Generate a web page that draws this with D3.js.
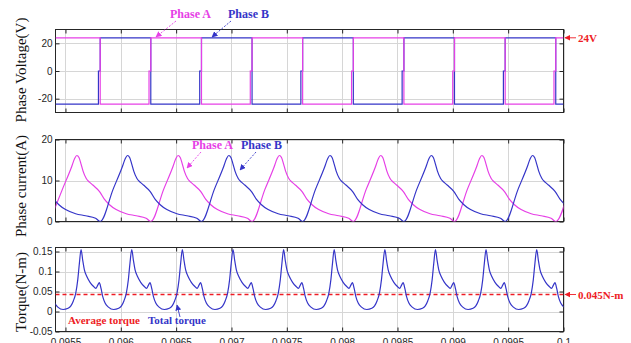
<!DOCTYPE html>
<html>
<head>
<meta charset="utf-8">
<script src="https://cdn.jsdelivr.net/npm/d3@7"></script>
<style>
  html, body { margin: 0; padding: 0; background: #fff; }
  svg { display: block; }
</style>
</head>
<body>
<svg id="chart" width="631" height="343"></svg>
<script>
// ---- axis ticks ----
const timeTicks = [0.0955, 0.096, 0.0965, 0.097, 0.0975, 0.098, 0.0985, 0.099, 0.0995, 0.1];
const timeTickLabels = ["0.0955", "0.096", "0.0965", "0.097", "0.0975", "0.098", "0.0985", "0.099", "0.0995", "0.1"];
const voltageTicks = [-20, 0, 20];
const voltageTickLabels = ["-20", "0", "20"];
const currentTicks = [0, 10, 20];
const currentTickLabels = ["0", "10", "20"];
const torqueTicks = [-0.05, 0, 0.05, 0.1, 0.15];
const torqueTickLabels = ["-0.05", "0", "0.05", "0.1", "0.15"];

// ---- phase voltages [time s, volts], each level held until the next time ----
const phaseAVoltage = [
  [0.09541, 24], [0.095814, -24], [0.096255, 0], [0.096271, 24], [0.096729, -24],
  [0.09717, 0], [0.097186, 24], [0.097643, -24], [0.098085, 0], [0.098101, 24],
  [0.098558, -24], [0.098999, 0], [0.099015, 24], [0.099473, -24], [0.099914, 0],
  [0.09993, 24], [0.1, 24]
];
const phaseBVoltage = [
  [0.09541, -24], [0.095798, 0], [0.095814, 24], [0.096271, -24], [0.096713, 0],
  [0.096729, 24], [0.097186, -24], [0.097627, 0], [0.097643, 24], [0.098101, -24],
  [0.098542, 0], [0.098558, 24], [0.099015, -24], [0.099457, 0], [0.099473, 24],
  [0.09993, -24], [0.1, -24]
];

// ---- phase currents [time s, amps] ----
const phaseACurrent = [
  [0.095356, 0], [0.095473, 7.9], [0.095555, 13.3], [0.095582, 15.3], [0.095603, 16.1], [0.095622, 15.6],
  [0.095641, 14.0], [0.095659, 12.3], [0.095688, 10.5], [0.095717, 9.6], [0.095747, 8.9], [0.095808, 7.3],
  [0.095853, 5.4], [0.095898, 4.1], [0.095958, 2.9], [0.096049, 1.9], [0.096139, 1.4], [0.096229, 0.8],
  [0.096271, 0], [0.096388, 7.9], [0.09647, 13.3], [0.096497, 15.3], [0.096518, 16.1], [0.096537, 15.6],
  [0.096556, 14.0], [0.096574, 12.3], [0.096603, 10.5], [0.096632, 9.6], [0.096662, 8.9], [0.096723, 7.3],
  [0.096768, 5.4], [0.096813, 4.1], [0.096873, 2.9], [0.096964, 1.9], [0.097054, 1.4], [0.097144, 0.8],
  [0.097186, 0], [0.097303, 7.9], [0.097385, 13.3], [0.097412, 15.3], [0.097433, 16.1], [0.097452, 15.6],
  [0.097471, 14.0], [0.097489, 12.3], [0.097518, 10.5], [0.097547, 9.6], [0.097577, 8.9], [0.097638, 7.3],
  [0.097683, 5.4], [0.097728, 4.1], [0.097788, 2.9], [0.097879, 1.9], [0.097969, 1.4], [0.098059, 0.8],
  [0.098101, 0], [0.098218, 7.9], [0.0983, 13.3], [0.098327, 15.3], [0.098348, 16.1], [0.098367, 15.6],
  [0.098386, 14.0], [0.098404, 12.3], [0.098433, 10.5], [0.098462, 9.6], [0.098492, 8.9], [0.098553, 7.3],
  [0.098598, 5.4], [0.098643, 4.1], [0.098703, 2.9], [0.098794, 1.9], [0.098884, 1.4], [0.098974, 0.8],
  [0.099015, 0], [0.099132, 7.9], [0.099214, 13.3], [0.099241, 15.3], [0.099262, 16.1], [0.099281, 15.6],
  [0.0993, 14.0], [0.099318, 12.3], [0.099347, 10.5], [0.099376, 9.6], [0.099406, 8.9], [0.099467, 7.3],
  [0.099512, 5.4], [0.099557, 4.1], [0.099617, 2.9], [0.099708, 1.9], [0.099798, 1.4], [0.099888, 0.8],
  [0.09993, 0], [0.100047, 7.9]
];
const phaseBCurrent = [
  [0.095351, 7.3], [0.095396, 5.4], [0.095441, 4.1], [0.095501, 2.9], [0.095592, 1.9], [0.095682, 1.4], [0.095772, 0.8],
  [0.095814, 0], [0.095931, 7.9], [0.096013, 13.3], [0.09604, 15.3], [0.096061, 16.1], [0.09608, 15.6],
  [0.096099, 14.0], [0.096117, 12.3], [0.096146, 10.5], [0.096175, 9.6], [0.096205, 8.9], [0.096266, 7.3],
  [0.096311, 5.4], [0.096356, 4.1], [0.096416, 2.9], [0.096507, 1.9], [0.096597, 1.4], [0.096687, 0.8],
  [0.096729, 0], [0.096846, 7.9], [0.096928, 13.3], [0.096955, 15.3], [0.096976, 16.1], [0.096995, 15.6],
  [0.097014, 14.0], [0.097032, 12.3], [0.097061, 10.5], [0.09709, 9.6], [0.09712, 8.9], [0.097181, 7.3],
  [0.097226, 5.4], [0.097271, 4.1], [0.097331, 2.9], [0.097422, 1.9], [0.097512, 1.4], [0.097602, 0.8],
  [0.097643, 0], [0.09776, 7.9], [0.097842, 13.3], [0.097869, 15.3], [0.09789, 16.1], [0.097909, 15.6],
  [0.097928, 14.0], [0.097946, 12.3], [0.097975, 10.5], [0.098004, 9.6], [0.098034, 8.9], [0.098095, 7.3],
  [0.09814, 5.4], [0.098185, 4.1], [0.098245, 2.9], [0.098336, 1.9], [0.098426, 1.4], [0.098516, 0.8],
  [0.098558, 0], [0.098675, 7.9], [0.098757, 13.3], [0.098784, 15.3], [0.098805, 16.1], [0.098824, 15.6],
  [0.098843, 14.0], [0.098861, 12.3], [0.09889, 10.5], [0.098919, 9.6], [0.098949, 8.9], [0.09901, 7.3],
  [0.099055, 5.4], [0.0991, 4.1], [0.09916, 2.9], [0.099251, 1.9], [0.099341, 1.4], [0.099431, 0.8],
  [0.099473, 0], [0.09959, 7.9], [0.099672, 13.3], [0.099699, 15.3], [0.09972, 16.1], [0.099739, 15.6],
  [0.099758, 14.0], [0.099776, 12.3], [0.099805, 10.5], [0.099834, 9.6], [0.099864, 8.9], [0.099925, 7.3],
  [0.09997, 5.4], [0.100015, 4.1]
];

// ---- total torque [time s, N-m] ----
const totalTorque = [
  [0.095401, 0.021], [0.095431, 0.011], [0.095479, 0.005], [0.095524, 0.008], [0.095549, 0.014],
  [0.095572, 0.027], [0.095593, 0.046], [0.095611, 0.079], [0.095626, 0.121],
  [0.095641, 0.155], [0.095656, 0.128], [0.095671, 0.104], [0.095692, 0.088], [0.095722, 0.073],
  [0.095752, 0.063], [0.095774, 0.058], [0.095792, 0.066], [0.095806, 0.072], [0.095822, 0.057],
  [0.095837, 0.037], [0.095858, 0.021], [0.095888, 0.011], [0.095936, 0.005], [0.095981, 0.008],
  [0.096006, 0.014], [0.096029, 0.027], [0.09605, 0.046], [0.096068, 0.079], [0.096083, 0.121],
  [0.096099, 0.155], [0.096114, 0.128], [0.096129, 0.104], [0.09615, 0.088], [0.09618, 0.073],
  [0.09621, 0.063], [0.096232, 0.058], [0.09625, 0.066], [0.096264, 0.072], [0.09628, 0.057],
  [0.096295, 0.037], [0.096316, 0.021], [0.096346, 0.011], [0.096394, 0.005], [0.096439, 0.008],
  [0.096464, 0.014], [0.096487, 0.027], [0.096508, 0.046], [0.096526, 0.079], [0.096541, 0.121],
  [0.096556, 0.155], [0.096571, 0.128], [0.096586, 0.104], [0.096607, 0.088], [0.096637, 0.073],
  [0.096667, 0.063], [0.096689, 0.058], [0.096707, 0.066], [0.096721, 0.072], [0.096737, 0.057],
  [0.096752, 0.037], [0.096773, 0.021], [0.096803, 0.011], [0.096851, 0.005], [0.096896, 0.008],
  [0.096921, 0.014], [0.096944, 0.027], [0.096965, 0.046], [0.096983, 0.079], [0.096998, 0.121],
  [0.097014, 0.155], [0.097029, 0.128], [0.097044, 0.104], [0.097065, 0.088], [0.097095, 0.073],
  [0.097125, 0.063], [0.097147, 0.058], [0.097165, 0.066], [0.097179, 0.072], [0.097195, 0.057],
  [0.09721, 0.037], [0.097231, 0.021], [0.097261, 0.011], [0.097309, 0.005], [0.097354, 0.008],
  [0.097379, 0.014], [0.097402, 0.027], [0.097423, 0.046], [0.097441, 0.079], [0.097456, 0.121],
  [0.097471, 0.155], [0.097486, 0.128], [0.097501, 0.104], [0.097522, 0.088], [0.097552, 0.073],
  [0.097582, 0.063], [0.097604, 0.058], [0.097622, 0.066], [0.097636, 0.072], [0.097652, 0.057],
  [0.097667, 0.037], [0.097688, 0.021], [0.097718, 0.011], [0.097766, 0.005], [0.097811, 0.008],
  [0.097836, 0.014], [0.097859, 0.027], [0.09788, 0.046], [0.097898, 0.079], [0.097913, 0.121],
  [0.097928, 0.155], [0.097943, 0.128], [0.097958, 0.104], [0.097979, 0.088], [0.098009, 0.073],
  [0.098039, 0.063], [0.098061, 0.058], [0.098079, 0.066], [0.098093, 0.072], [0.098109, 0.057],
  [0.098124, 0.037], [0.098145, 0.021], [0.098175, 0.011], [0.098223, 0.005], [0.098268, 0.008],
  [0.098293, 0.014], [0.098316, 0.027], [0.098337, 0.046], [0.098355, 0.079], [0.09837, 0.121],
  [0.098386, 0.155], [0.098401, 0.128], [0.098416, 0.104], [0.098437, 0.088], [0.098467, 0.073],
  [0.098497, 0.063], [0.098519, 0.058], [0.098537, 0.066], [0.098551, 0.072], [0.098567, 0.057],
  [0.098582, 0.037], [0.098603, 0.021], [0.098633, 0.011], [0.098681, 0.005], [0.098726, 0.008],
  [0.098751, 0.014], [0.098774, 0.027], [0.098795, 0.046], [0.098813, 0.079], [0.098828, 0.121],
  [0.098843, 0.155], [0.098858, 0.128], [0.098873, 0.104], [0.098894, 0.088], [0.098924, 0.073],
  [0.098954, 0.063], [0.098976, 0.058], [0.098994, 0.066], [0.099008, 0.072], [0.099024, 0.057],
  [0.099039, 0.037], [0.09906, 0.021], [0.09909, 0.011], [0.099138, 0.005], [0.099183, 0.008],
  [0.099208, 0.014], [0.099231, 0.027], [0.099252, 0.046], [0.09927, 0.079], [0.099285, 0.121],
  [0.0993, 0.155], [0.099315, 0.128], [0.09933, 0.104], [0.099351, 0.088], [0.099381, 0.073],
  [0.099411, 0.063], [0.099433, 0.058], [0.099451, 0.066], [0.099465, 0.072], [0.099481, 0.057],
  [0.099496, 0.037], [0.099517, 0.021], [0.099547, 0.011], [0.099595, 0.005], [0.09964, 0.008],
  [0.099665, 0.014], [0.099688, 0.027], [0.099709, 0.046], [0.099727, 0.079], [0.099742, 0.121],
  [0.099758, 0.155], [0.099773, 0.128], [0.099788, 0.104], [0.099809, 0.088], [0.099839, 0.073],
  [0.099869, 0.063], [0.099891, 0.058], [0.099909, 0.066], [0.099923, 0.072], [0.099939, 0.057],
  [0.099954, 0.037], [0.099975, 0.021], [0.100005, 0.011]
];

const averageTorque = 0.045;
const supplyVoltage = 24;

// ---- styling ----
const colA = "#e640e6";
const colB = "#3535c8";
const red = "#ee1c25";
const axisCol = "#262626";
const gridCol = "#d6d6d6";
const tickFont = "'Liberation Sans', Arial, sans-serif";
const serif = "'Liberation Serif', 'Times New Roman', serif";

const svg = d3.select("#chart");
const x = d3.scaleLinear().domain([0.09541, 0.1]).range([55.5, 563.5]);

const panels = [
  { id: "v", domain: [-30, 30], range: [112.5, 29.5], ticks: voltageTicks, labels: voltageTickLabels, title: "Phase Voltage(V)", titleY: 70 },
  { id: "i", domain: [0, 20], range: [221.5, 139.5], ticks: currentTicks, labels: currentTickLabels, title: "Phase current(A)", titleY: 186 },
  { id: "t", domain: [-0.05, 0.16], range: [331.5, 247.5], ticks: torqueTicks, labels: torqueTickLabels, title: "Torque(N-m)", titleY: 292 }
];

// arrowhead markers
const defs = svg.append("defs");
[["arrA", colA], ["arrB", colB], ["arrR", red]].forEach(([id, c]) => {
  defs.append("marker").attr("id", id)
    .attr("viewBox", "0 0 10 10").attr("refX", 9).attr("refY", 5)
    .attr("markerWidth", 6).attr("markerHeight", 6).attr("markerUnits", "userSpaceOnUse")
    .attr("orient", "auto")
    .append("path").attr("d", "M0,0 L10,5 L0,10 Z").attr("fill", c);
});

panels.forEach(p => {
  p.y = d3.scaleLinear().domain(p.domain).range(p.range);
  const [x0, x1] = x.range();
  const yTop = p.range[1], yBot = p.range[0];
  const g = svg.append("g");

  defs.append("clipPath").attr("id", "clip-" + p.id)
    .append("rect").attr("x", x0).attr("y", yTop).attr("width", x1 - x0).attr("height", yBot - yTop);

  // grid
  g.selectAll(".gx").data(timeTicks).join("line")
    .attr("x1", d => Math.round(x(d)) + 0.5).attr("x2", d => Math.round(x(d)) + 0.5)
    .attr("y1", yTop).attr("y2", yBot).attr("stroke", gridCol).attr("stroke-width", 1);
  g.selectAll(".gy").data(p.ticks).join("line")
    .attr("x1", x0).attr("x2", x1)
    .attr("y1", d => Math.round(p.y(d)) + 0.5).attr("y2", d => Math.round(p.y(d)) + 0.5)
    .attr("stroke", gridCol).attr("stroke-width", 1);

  // box
  g.append("rect").attr("x", x0).attr("y", yTop).attr("width", x1 - x0).attr("height", yBot - yTop)
    .attr("fill", "none").attr("stroke", axisCol).attr("stroke-width", 1);

  // inward ticks on all four sides
  const bottomAxis = d3.axisBottom(x).tickValues(timeTicks).tickSizeInner(-4).tickSizeOuter(0)
    .tickFormat((d, i) => p.id === "t" ? timeTickLabels[i] : "");
  const topAxis = d3.axisTop(x).tickValues(timeTicks).tickSizeInner(-4).tickSizeOuter(0).tickFormat("");
  const leftAxis = d3.axisLeft(p.y).tickValues(p.ticks).tickSizeInner(-4).tickSizeOuter(0)
    .tickFormat((d, i) => p.labels[i]);
  const rightAxis = d3.axisRight(p.y).tickValues(p.ticks).tickSizeInner(-4).tickSizeOuter(0).tickFormat("");

  const styleAxis = sel => {
    sel.select(".domain").remove();
    sel.selectAll(".tick line").attr("stroke", axisCol);
    sel.selectAll(".tick text").attr("fill", axisCol).attr("font-family", tickFont).attr("font-size", 10);
  };
  g.append("g").attr("transform", `translate(0,${yBot})`).call(bottomAxis).call(styleAxis)
    .selectAll(".tick text").attr("dy", "0.71em").attr("y", 7);
  g.append("g").attr("transform", `translate(0,${yTop})`).call(topAxis).call(styleAxis);
  g.append("g").attr("transform", `translate(${x0},0)`).call(leftAxis).call(styleAxis)
    .selectAll(".tick text").attr("x", -3);
  g.append("g").attr("transform", `translate(${x1},0)`).call(rightAxis).call(styleAxis);

  // y label
  svg.append("text")
    .attr("transform", `translate(26,${p.titleY}) rotate(-90)`)
    .attr("text-anchor", "middle")
    .attr("font-family", serif).attr("font-size", 15).attr("fill", "#111")
    .text(p.title);

  p.plot = svg.append("g").attr("clip-path", `url(#clip-${p.id})`);
});

const [pv, pi, pt] = panels;

// voltage traces
const vLine = d3.line().x(d => x(d[0])).y(d => pv.y(d[1])).curve(d3.curveStepAfter);
pv.plot.append("path").datum(phaseBVoltage).attr("d", vLine)
  .attr("fill", "none").attr("stroke", colB).attr("stroke-width", 1.2);
pv.plot.append("path").datum(phaseAVoltage).attr("d", vLine)
  .attr("fill", "none").attr("stroke", colA).attr("stroke-width", 1.2);

// current traces
const iLine = d3.line().x(d => x(d[0])).y(d => pi.y(d[1])).curve(d3.curveMonotoneX);
pi.plot.append("path").datum(phaseACurrent).attr("d", iLine)
  .attr("fill", "none").attr("stroke", colA).attr("stroke-width", 1.2);
pi.plot.append("path").datum(phaseBCurrent).attr("d", iLine)
  .attr("fill", "none").attr("stroke", colB).attr("stroke-width", 1.2);

// torque trace and its average
const tLine = d3.line().x(d => x(d[0])).y(d => pt.y(d[1])).curve(d3.curveMonotoneX);
const avgY = Math.round(pt.y(averageTorque)) + 0.5;
pt.plot.append("line")
  .attr("x1", x.range()[0]).attr("x2", x.range()[1])
  .attr("y1", avgY).attr("y2", avgY)
  .attr("stroke", red).attr("stroke-width", 1.3).attr("stroke-dasharray", "4,3");
pt.plot.append("path").datum(totalTorque).attr("d", tLine)
  .attr("fill", "none").attr("stroke", colB).attr("stroke-width", 1.2);

// annotations
function label(txt, xp, yp, color, size) {
  svg.append("text").attr("x", xp).attr("y", yp)
    .attr("font-family", serif).attr("font-weight", "bold").attr("font-size", size)
    .attr("fill", color).text(txt);
}
function arrow(x1, y1, x2, y2, marker, color, dashed) {
  svg.append("line").attr("x1", x1).attr("y1", y1).attr("x2", x2).attr("y2", y2)
    .attr("stroke", color).attr("stroke-width", 0.9)
    .attr("stroke-dasharray", dashed ? "2,1.5" : null)
    .attr("marker-end", `url(#${marker})`);
}

label("Phase A", 170, 18, colA, 12);
label("Phase B", 228, 18, colB, 12);
arrow(176, 21, 156, 37, "arrA", colA, true);
arrow(231, 21, 212, 37, "arrB", colB, true);

label("Phase A", 192, 149, colA, 12);
label("Phase B", 241, 149, colB, 12);
arrow(201, 152, 187, 168, "arrA", colA, true);
arrow(256, 152, 240, 170, "arrB", colB, true);

const vY = pv.y(supplyVoltage);
arrow(576, vY, 565, vY, "arrR", red, false);
label(supplyVoltage + "V", 578, vY + 4, red, 11);

arrow(576, avgY, 565, avgY, "arrR", red, false);
label(averageTorque + "N-m", 578, avgY + 4, red, 11);

label("Average torque", 68, 324, red, 11);
label("Total torque", 148, 324, colB, 11);
arrow(180, 317, 177, 305, "arrB", colB, false);
</script>
</body>
</html>
